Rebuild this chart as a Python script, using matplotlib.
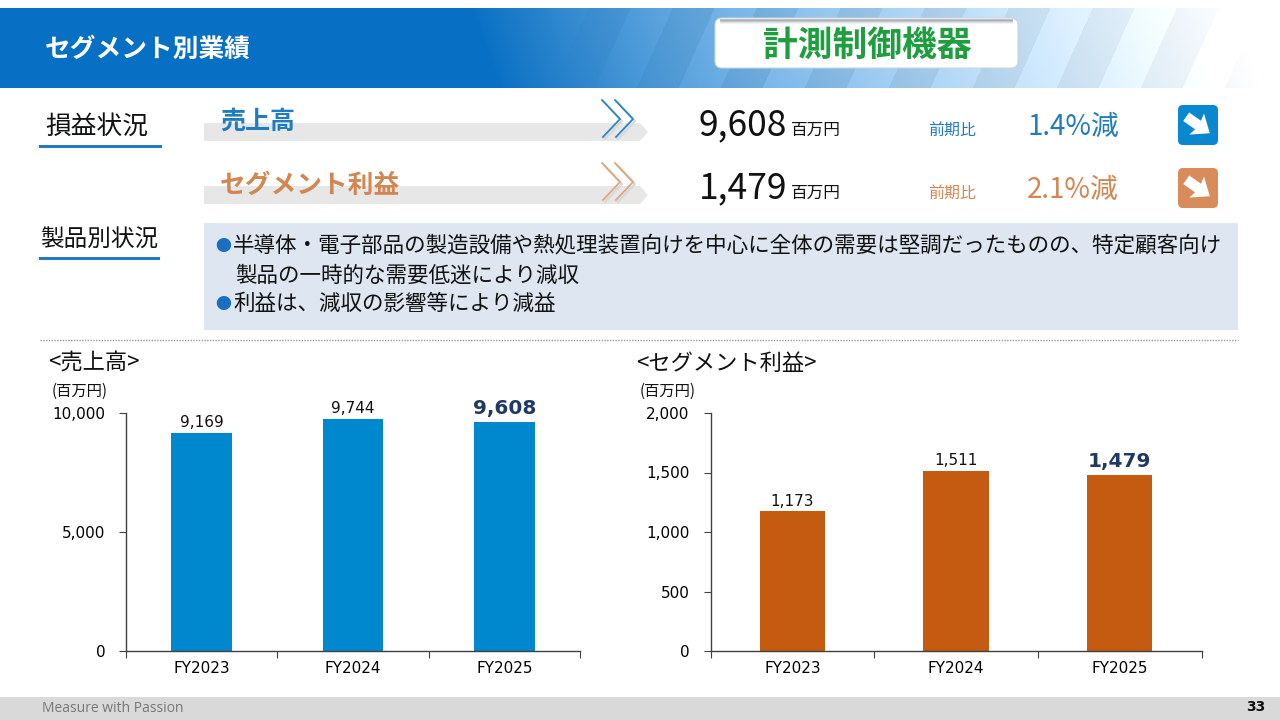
import matplotlib
matplotlib.use('Agg')
import matplotlib.pyplot as plt
from matplotlib.patches import FancyBboxPatch, Polygon, Rectangle
import numpy as np

plt.rcParams['font.family'] = ['Noto Sans CJK JP', 'DejaVu Sans']

# data
years = ['FY2023', 'FY2024', 'FY2025']
sales = [9169, 9744, 9608]
profit = [1173, 1511, 1479]
sales_ticks = [0, 5000, 10000]
profit_ticks = [0, 500, 1000, 1500, 2000]
summary_names = ['売上高', 'セグメント利益']
summary_values = ['9,608', '1,479']
summary_yoy = ['1.4%減', '2.1%減']
bullets = ['●半導体・電子部品の製造設備や熱処理装置向けを中心に全体の需要は堅調だったものの、特定顧客向け',
           '製品の一時的な需要低迷により減収',
           '●利益は、減収の影響等により減益']

BLUE = '#0088ce'
ORANGE = '#c55a11'
TXT_BLUE = '#1f7cc0'
TXT_ORANGE = '#d3864f'
NAVY = '#1f3864'

fig = plt.figure(figsize=(12.8, 7.2), dpi=100)
bg = fig.add_axes([0, 0, 1, 1])
bg.set_xlim(0, 1280)
bg.set_ylim(720, 0)
bg.axis('off')

# header band: smooth blue-to-white gradient with faint diagonal stripes
xx, yy = np.meshgrid(np.arange(1280), np.arange(80))
xs = xx + 0.35 * (80 - yy)
t = np.clip((xs - 500) / 760.0, 0, 1) ** 0.85
stripe = (((xx + 0.45 * yy) // 42) % 2) * 0.05 * np.clip((xs - 560) / 200.0, 0, 1)
base = np.array([8, 112, 196]) / 255.0
img = base[None, None, :] * (1 - t[..., None]) + t[..., None]
img = np.clip(img + stripe[..., None], 0, 1)
img[xs > 1265] = 1.0
bg.imshow(img, extent=(0, 1280, 88, 8), aspect='auto', zorder=0)

bg.text(45, 49, 'セグメント別業績', color='white', fontsize=18.5, fontweight='bold',
        va='center', ha='left')
bg.add_patch(FancyBboxPatch((715, 18), 303, 50, boxstyle='round,pad=0,rounding_size=7',
                            fc='white', ec='#cfd4d8', lw=0.8, zorder=2))
for k, a in enumerate([0.55, 0.35, 0.2, 0.1]):
    bg.plot([721, 1012], [19.5 + k * 1.3, 19.5 + k * 1.3], color='#7d8790', alpha=a, lw=1.3, zorder=3)
bg.text(867, 45, '計測制御機器', color='#1e9e3e', fontsize=25, fontweight='bold',
        ha='center', va='center', zorder=4)

# section labels
bg.text(45, 127, '損益状況', fontsize=18.5, va='center', ha='left', color='#111111')
bg.plot([40, 160], [146, 146], color=TXT_BLUE, lw=2.2)
bg.text(40, 240, '製品別状況', fontsize=17, va='center', ha='left', color='#111111')
bg.plot([40, 158], [258, 258], color=TXT_BLUE, lw=2.2)

# summary rows
row_y = [124, 187]
row_col = [TXT_BLUE, TXT_ORANGE]
name_size = [18, 18.5]
icon_col = ['#0a88cf', '#d88c5a']
chev_col = ['#2a86c8', '#e0a57c']
for i in range(2):
    y = row_y[i]
    bg.add_patch(Polygon([(204, y - 1), (640, y - 1), (648, y + 8), (640, y + 17), (204, y + 17)],
                         closed=True, fc='#e7e7e7', ec='none', zorder=1))
    bg.text(220, y - 2, summary_names[i], color=row_col[i], fontsize=name_size[i], fontweight='bold',
            va='center', ha='left', zorder=2)
    for dx in (0, 13):
        bg.plot([602 + dx + 2, 620 + dx + 2, 603 + dx + 2], [y - 22, y - 3, y + 15],
                color='#d8d8d8', lw=1.6, zorder=2)
        bg.plot([602 + dx, 620 + dx, 603 + dx], [y - 24, y - 5, y + 13],
                color=chev_col[i], lw=1.3, zorder=3)
    bg.text(699, y + 1, summary_values[i], fontsize=25.5, va='center', ha='left', color='#111111')
    bg.text(791, y + 6, '百万円', fontsize=12, va='center', ha='left', color='#111111')
    bg.text(928, y + 6, '前期比', fontsize=11.5, va='center', ha='left', color=row_col[i])
    bg.text(1027, y + 3, summary_yoy[i], fontsize=20, va='center', ha='left', color=row_col[i])
    # icon
    iy = y - 19
    bg.add_patch(FancyBboxPatch((1178, iy), 40, 40, boxstyle='round,pad=0,rounding_size=5',
                                fc=icon_col[i], ec='none'))
    arr = np.array([(-0.36, -0.13), (0.0, -0.13), (-0.04, -0.32), (0.36, 0.0),
                    (-0.04, 0.32), (0.0, 0.13), (-0.36, 0.13)])
    ang = np.deg2rad(35)
    rot = np.array([[np.cos(ang), -np.sin(ang)], [np.sin(ang), np.cos(ang)]])
    pts = arr @ rot.T * 40 + np.array([1198, iy + 20])
    bg.add_patch(Polygon(pts, closed=True, fc='white', ec='none'))

# comment box
bg.add_patch(Rectangle((204, 223), 1034, 107, fc='#dde6f1', ec='none'))
line_y = [246, 276, 304]
line_x = [215, 235, 215]
for s, lx, ly in zip(bullets, line_x, line_y):
    if s.startswith('●'):
        bg.text(lx, ly + 1, '●', color='#1a6fc0', fontsize=11.5, va='center', ha='left')
        bg.text(lx + 18, ly, s[1:], color='#111111', fontsize=15.5, va='center', ha='left')
    else:
        bg.text(lx, ly, s, color='#111111', fontsize=15.5, va='center', ha='left')

bg.plot([40, 1238], [340, 340], color='#9a9a9a', lw=1, ls=(0, (1, 1)))

# chart titles
bg.text(48, 363, '<売上高>', fontsize=16, va='center', ha='left', color='#111111')
bg.text(52, 391, '(百万円)', fontsize=11, va='center', ha='left', color='#111111')
bg.text(636, 363, '<セグメント利益>', fontsize=16, va='center', ha='left', color='#111111')
bg.text(640, 391, '(百万円)', fontsize=11, va='center', ha='left', color='#111111')

# footer
bg.add_patch(Rectangle((0, 697), 1280, 23, fc='#d9d9d9', ec='none'))
bg.text(42, 709, 'Measure with Passion', fontsize=10, family='Open Sans', color='#777777',
        va='center', ha='left')
bg.text(1265, 707, '33', fontsize=10, fontweight='bold', family='DejaVu Sans', color='#111111',
        va='center', ha='right')


def draw_bars(rect, vals, color, ticks):
    ax = fig.add_axes(rect)
    ax.patch.set_alpha(0)
    x = np.arange(len(years))
    ax.bar(x, vals, width=0.4, color=color, zorder=2)
    ax.set_xlim(-0.5, len(years) - 0.5)
    ax.set_ylim(0, ticks[-1])
    ax.set_yticks(ticks)
    ax.set_yticklabels([f'{v:,}' for v in ticks], family='DejaVu Sans', fontsize=11)
    ax.set_xticks(np.arange(len(years) + 1) - 0.5)
    ax.set_xticklabels([])
    ax.set_xticks(x, minor=True)
    ax.set_xticklabels(years, minor=True, family='DejaVu Sans', fontsize=11)
    ax.tick_params(axis='x', which='minor', length=0, pad=7)
    ax.tick_params(axis='x', which='major', length=5, color='#404040')
    ax.tick_params(axis='y', length=5, pad=10, color='#404040')
    for s in ('top', 'right'):
        ax.spines[s].set_visible(False)
    for s in ('left', 'bottom'):
        ax.spines[s].set_color('#404040')
        ax.spines[s].set_linewidth(1)
    for i, v in enumerate(vals):
        if i == len(vals) - 1:
            ax.annotate(f'{v:,}', (i, v), xytext=(0, 3), textcoords='offset points',
                        ha='center', va='bottom', fontsize=14.5, fontweight='bold',
                        color=NAVY, family='DejaVu Sans')
        else:
            ax.annotate(f'{v:,}', (i, v), xytext=(0, 2), textcoords='offset points',
                        ha='center', va='bottom', fontsize=11, color='#111111',
                        family='DejaVu Sans')
    return ax


draw_bars([126 / 1280, 1 - 651 / 720, 454 / 1280, 238 / 720], sales, BLUE, sales_ticks)
draw_bars([710.5 / 1280, 1 - 651 / 720, 491 / 1280, 238 / 720], profit, ORANGE, profit_ticks)

fig.savefig('out.png', dpi=100)
